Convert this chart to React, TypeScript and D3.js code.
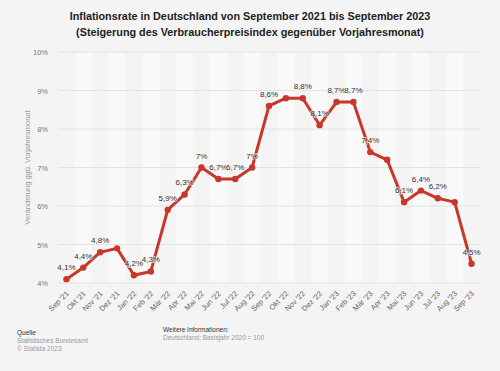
import { useEffect, useRef } from "react";
import * as d3 from "d3";

const months = [
  "Sep '21", "Okt '21", "Nov '21", "Dez '21", "Jan '22", "Feb '22", "Mär '22", "Apr '22",
  "Mai '22", "Jun '22", "Jul '22", "Aug '22", "Sep '22", "Okt '22", "Nov '22", "Dez '22",
  "Jan '23", "Feb '23", "Mär '23", "Apr '23", "Mai '23", "Jun '23", "Jul '23", "Aug '23", "Sep '23",
];
const rates = [
  4.1, 4.4, 4.8, 4.9, 4.2, 4.3, 5.9, 6.3, 7, 6.7, 6.7, 7, 8.6, 8.8, 8.8, 8.1,
  8.7, 8.7, 7.4, 7.2, 6.1, 6.4, 6.2, 6.1, 4.5,
];
// labels that are shown in the original (null = hidden)
const shownLabels = [
  "4,1%", "4,4%", "4,8%", null, "4,2%", "4,3%", "5,9%", "6,3%", "7%", "6,7%", "6,7%", "7%",
  "8,6%", null, "8,8%", "8,1%", "8,7%", "8,7%", "7,4%", null, "6,1%", "6,4%", "6,2%", null, "4,5%",
];
const yTicks = [4, 5, 6, 7, 8, 9, 10];

const W = 500;
const H = 371;
const FONT = "'Liberation Sans', Arial, sans-serif";

export default function App() {
  const svgRef = useRef<SVGSVGElement>(null);

  useEffect(() => {
    const svg = d3.select(svgRef.current);
    svg.selectAll("*").remove();

    const left = 58, right = 480, top = 52, bottom = 283;

    const x = d3.scaleBand().domain(months).range([left, right]).padding(0);
    const y = d3.scaleLinear().domain([4, 10]).range([bottom, top]);

    svg.append("rect").attr("width", W).attr("height", H).attr("fill", "#f4f4f4");

    // alternating stripes
    svg.append("g")
      .selectAll("rect")
      .data(months.filter((_, i) => i % 2 === 1))
      .enter()
      .append("rect")
      .attr("x", (d) => x(d)!)
      .attr("y", top)
      .attr("width", x.bandwidth())
      .attr("height", bottom - top)
      .attr("fill", "#f9f9f9");

    // grid
    svg.append("g")
      .selectAll("line")
      .data(yTicks)
      .enter()
      .append("line")
      .attr("x1", left)
      .attr("x2", right)
      .attr("y1", (d) => y(d))
      .attr("y2", (d) => y(d))
      .attr("stroke", "#e2e2e2")
      .attr("stroke-width", 1);

    // y tick labels
    svg.append("g")
      .selectAll("text")
      .data(yTicks)
      .enter()
      .append("text")
      .attr("x", 48)
      .attr("y", (d) => y(d) + 3)
      .attr("text-anchor", "end")
      .attr("font-family", FONT)
      .attr("font-size", 7.5)
      .attr("fill", "#777")
      .text((d) => `${d}%`);

    svg.append("text")
      .attr("transform", `translate(30,${(top + bottom) / 2}) rotate(-90)`)
      .attr("text-anchor", "middle")
      .attr("font-family", FONT)
      .attr("font-size", 7.5)
      .attr("fill", "#999")
      .text("Veränderung ggü. Vorjahresmonat");

    // x tick labels
    svg.append("g")
      .selectAll("text")
      .data(months)
      .enter()
      .append("text")
      .attr("transform", (d) => `translate(${x(d)! + x.bandwidth() / 2 + 3},${bottom + 11}) rotate(-45)`)
      .attr("text-anchor", "end")
      .attr("font-family", FONT)
      .attr("font-size", 7.5)
      .attr("fill", "#666")
      .text((d) => d);

    const cx = (i: number) => x(months[i])! + x.bandwidth() / 2;

    const line = d3.line<number>()
      .x((_, i) => cx(i))
      .y((d) => y(d));

    svg.append("path")
      .datum(rates)
      .attr("d", line)
      .attr("fill", "none")
      .attr("stroke", "#c8372b")
      .attr("stroke-width", 3)
      .attr("stroke-linejoin", "round");

    svg.append("g")
      .selectAll("circle")
      .data(rates)
      .enter()
      .append("circle")
      .attr("cx", (_, i) => cx(i))
      .attr("cy", (d) => y(d))
      .attr("r", 3.2)
      .attr("fill", "#c8372b");

    const labelIdx = d3.range(rates.length).filter((i) => shownLabels[i] !== null);

    svg.append("g")
      .selectAll("text")
      .data(labelIdx)
      .enter()
      .append("text")
      .attr("x", (i) => cx(i))
      .attr("y", (i) => y(rates[i]) - 9)
      .attr("text-anchor", "middle")
      .attr("font-family", FONT)
      .attr("font-size", 8)
      .attr("fill", "#333")
      .attr("stroke", "#f6f6f6")
      .attr("stroke-width", 2)
      .attr("stroke-opacity", 0.6)
      .attr("paint-order", "stroke")
      .text((i) => shownLabels[i] as string);

    // title
    const title = svg.append("g")
      .attr("font-family", FONT)
      .attr("font-size", 10.8)
      .attr("font-weight", "bold")
      .attr("fill", "#222")
      .attr("text-anchor", "middle");
    title.append("text").attr("x", W / 2).attr("y", 20)
      .text("Inflationsrate in Deutschland von September 2021 bis September 2023");
    title.append("text").attr("x", W / 2).attr("y", 36)
      .text("(Steigerung des Verbraucherpreisindex gegenüber Vorjahresmonat)");

    // footer
    const foot = svg.append("g").attr("font-family", FONT).attr("font-size", 6.5);
    foot.append("text").attr("x", 17).attr("y", 335).attr("fill", "#333").text("Quelle");
    foot.append("text").attr("x", 17).attr("y", 343).attr("fill", "#999").text("Statistisches Bundesamt");
    foot.append("text").attr("x", 17).attr("y", 351).attr("fill", "#999").text("© Statista 2023");
    foot.append("text").attr("x", 163).attr("y", 332).attr("fill", "#333").text("Weitere Informationen:");
    foot.append("text").attr("x", 163).attr("y", 340).attr("fill", "#999").text("Deutschland; Basisjahr 2020 = 100");
  }, []);

  return (
    <svg
      ref={svgRef}
      width={W}
      height={H}
      style={{ position: "absolute", left: 0, top: 0, display: "block" }}
    />
  );
}
